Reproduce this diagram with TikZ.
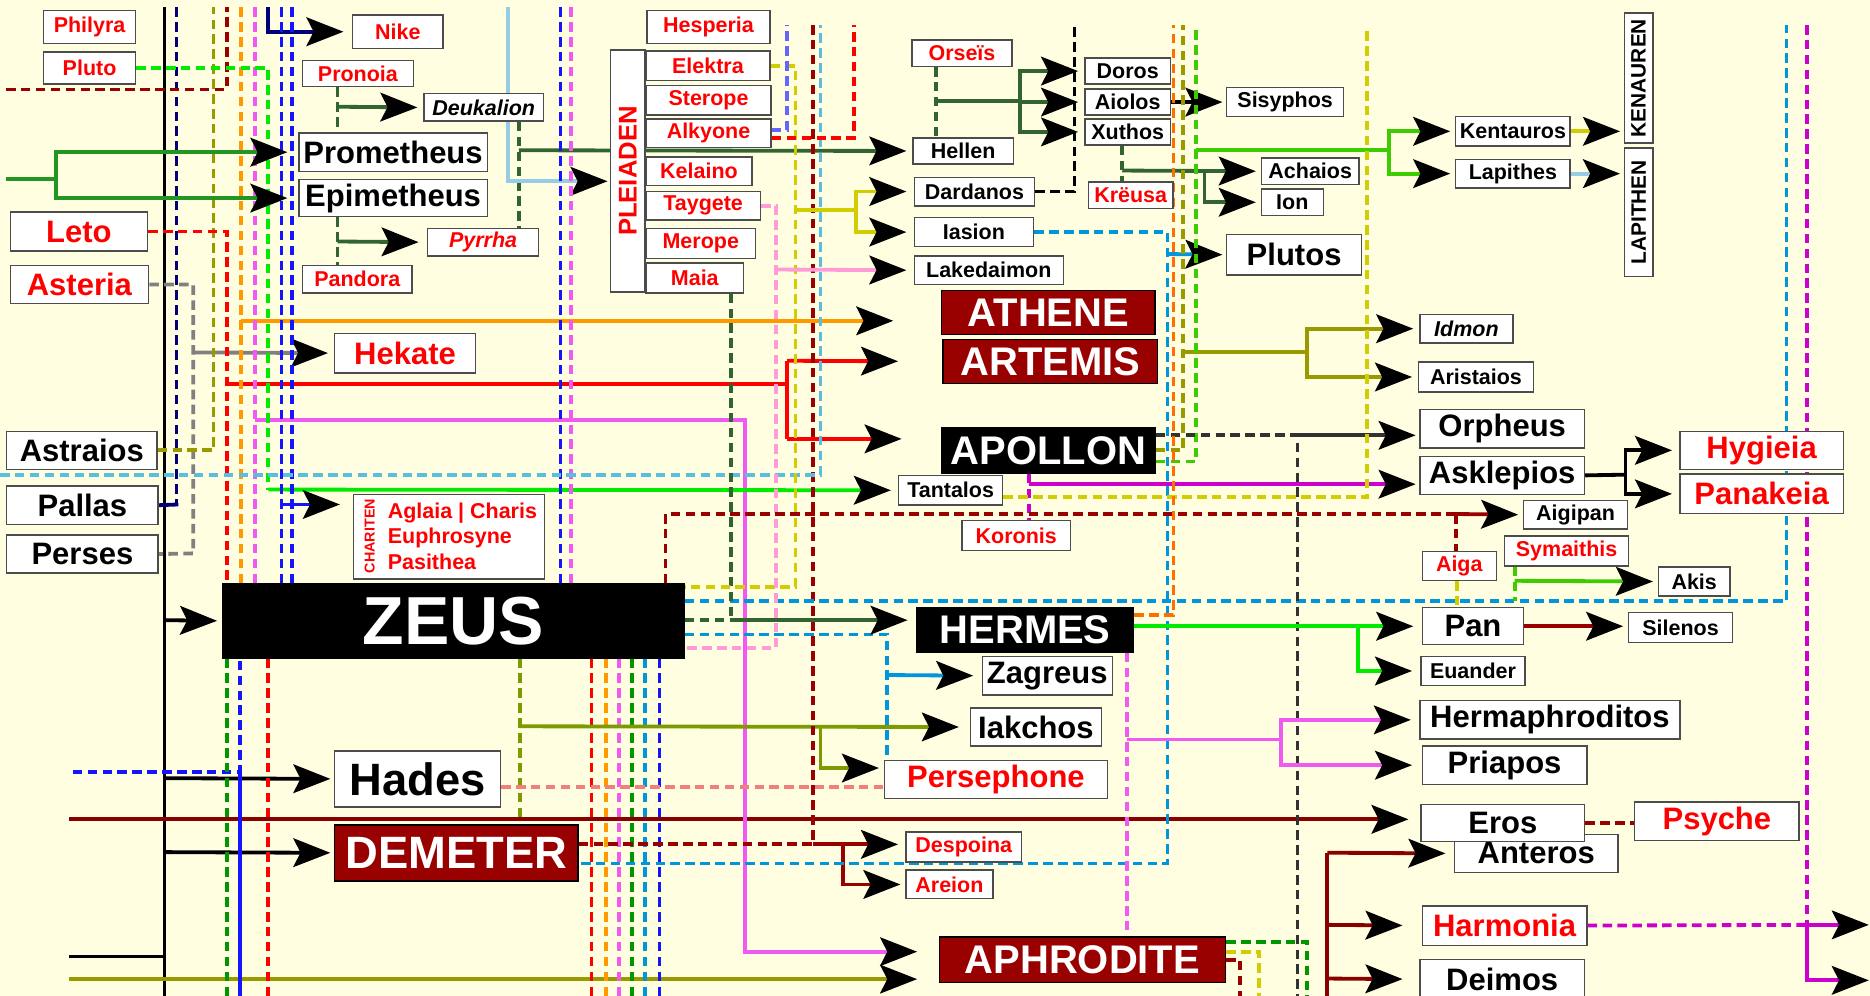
\documentclass[tikz,border=0pt]{standalone}
\usepackage{fontspec}
\setmainfont{Liberation Sans}
\usepackage{tikz}
\usetikzlibrary{arrows.meta}

\definecolor{paper}{RGB}{255,254,224}
\definecolor{godred}{RGB}{153,0,0}
\definecolor{fred}{RGB}{255,0,0}
\definecolor{dred}{RGB}{153,0,0}
\definecolor{maroon}{RGB}{136,0,0}
\definecolor{navy}{RGB}{0,0,120}
\definecolor{olv}{RGB}{153,153,0}
\definecolor{olvgreen}{RGB}{125,155,0}
\definecolor{orng}{RGB}{255,153,0}
\definecolor{orng2}{RGB}{255,110,0}
\definecolor{pinkv}{RGB}{240,90,240}
\definecolor{purp}{RGB}{204,0,204}
\definecolor{lgreen}{RGB}{0,235,0}
\definecolor{lime}{RGB}{60,205,0}
\definecolor{mgreen}{RGB}{34,150,34}
\definecolor{dgreen}{RGB}{50,100,50}
\definecolor{grn}{RGB}{0,150,0}
\definecolor{blu}{RGB}{20,20,255}
\definecolor{peri}{RGB}{100,100,255}
\definecolor{skyl}{RGB}{150,205,230}
\definecolor{sky}{RGB}{90,190,225}
\definecolor{dsky}{RGB}{0,150,220}
\definecolor{yel}{RGB}{210,205,0}
\definecolor{pnk}{RGB}{255,155,215}
\definecolor{salmon}{RGB}{240,128,128}
\definecolor{gry}{RGB}{128,128,128}
\definecolor{dgry}{RGB}{50,50,50}

\pgfdeclarelayer{back}
\pgfdeclarelayer{lines}
\pgfsetlayers{back,lines,main}

\begin{document}
\begin{tikzpicture}[x=1pt,y=-1pt,
    nbox/.style={draw=black!70,line width=1.2pt,fill=white,inner sep=0pt,anchor=north west,font=\fontsize{18}{20}\selectfont\bfseries},
    big/.style={nbox,font=\fontsize{26}{28}\selectfont\bfseries},
    fem/.style={text=fred},
    god/.style={nbox,draw=black,fill=godred,text=white,font=\fontsize{33.5}{36}\selectfont\bfseries},
    boss/.style={god,fill=black},
    sz/.style 2 args={minimum width=#1pt,minimum height=#2pt},
    arr/.style={-{Stealth[color=black,length=31pt,width=24pt,inset=6pt]},shorten >=5pt},
    dsh/.style={dash pattern=on 8pt off 4.5pt}]
\useasboundingbox (0,0) rectangle (1568,835);
\begin{pgfonlayer}{back}
\fill[paper] (0,0) rectangle (1568,835);
\end{pgfonlayer}

% Titans and their wives
\node[nbox,fem,sz={77}{28}] (philyra) at (36,8) {Philyra};
\node[nbox,fem,sz={77}{27}] (pluto) at (36,43) {Pluto};
\node[big,fem,sz={115}{33}] (leto) at (8,177) {Leto};
\node[big,fem,sz={116}{32}] (asteria) at (8,222) {Asteria};
\node[big,sz={126}{32}] (astraios) at (5,361) {Astraios};
\node[big,sz={127}{32}] (pallas) at (5,407) {Pallas};
\node[big,sz={127}{32}] (perses) at (5,448) {Perses};

\node[nbox,fem,sz={76}{28}] (nike) at (295,12) {Nike};
\node[nbox,fem,sz={93}{22}] (pronoia) at (253,50) {Pronoia};
\node[nbox,sz={100}{23}] (deukalion) at (355,78) {\itshape Deukalion};
\node[big,sz={158}{32}] (prometheus) at (250,111) {Prometheus};
\node[big,sz={158}{31}] (epimetheus) at (250,150) {Epimetheus};
\node[nbox,fem,sz={93}{23}] (pyrrha) at (358,191) {\itshape Pyrrha};
\node[nbox,fem,sz={92}{23}] (pandora) at (253,222) {Pandora};
\node[big,fem,sz={118}{33}] (hekate) at (280,279) {Hekate};
\node[nbox,sz={160}{71}] (chariten) at (296,414) {};
\node[fem,rotate=90,inner sep=0pt,font=\fontsize{12}{12}\selectfont\bfseries] (charitenlbl) at (310,449.5) {CHARITEN};
\node[fem,anchor=west,align=left,inner sep=0pt,font=\fontsize{18}{21.5}\selectfont\bfseries] (charites) at (325,449.5) {Aglaia | Charis\\Euphrosyne\\Pasithea};
\node[boss,sz={387}{62},font=\fontsize{57}{60}\selectfont\bfseries] (zeus) at (186,489) {ZEUS};
\node[big,sz={139}{47},font=\fontsize{38}{40}\selectfont\bfseries] (hades) at (280,629) {Hades};
\node[god,sz={204}{47},font=\fontsize{38}{40}\selectfont\bfseries] (demeter) at (280,691) {DEMETER};

% Pleiades
\node[nbox,fem,sz={103}{28}] (hesperia) at (542,8) {Hesperia};
\node[nbox,fem,anchor=center,rotate=90,sz={203}{29},font=\fontsize{21.5}{22}\selectfont\bfseries] (pleiaden) at (526.5,143.5) {PLEIADEN};
\node[nbox,fem,sz={104}{25}] (elektra) at (541,42) {Elektra};
\node[nbox,fem,sz={105}{25}] (sterope) at (541,71) {Sterope};
\node[nbox,fem,sz={105}{24}] (alkyone) at (541,99) {Alkyone};
\node[nbox,fem,sz={89}{24}] (kelaino) at (541,131) {Kelaino};
\node[nbox,fem,sz={96}{24}] (taygete) at (541,160) {Taygete};
\node[nbox,fem,sz={92}{25}] (merope) at (541,191) {Merope};
\node[nbox,fem,sz={82}{25}] (maia) at (541,220) {Maia};

% children of Zeus
\node[nbox,fem,sz={84}{22}] (orseis) at (764,33) {Orseïs};
\node[nbox,sz={84}{22}] (hellen) at (765,115) {Hellen};
\node[nbox,sz={101}{24}] (dardanos) at (766,148) {Dardanos};
\node[nbox,sz={100}{24}] (iasion) at (766,182) {Iasion};
\node[nbox,sz={125}{24}] (lakedaimon) at (766,214) {Lakedaimon};
\node[god,sz={179}{37}] (athene) at (789,243) {ATHENE};
\node[god,sz={180}{37}] (artemis) at (790,284) {ARTEMIS};
\node[boss,sz={179}{38}] (apollon) at (789,358) {APOLLON};
\node[nbox,sz={87}{25}] (tantalos) at (753,398) {Tantalos};
\node[nbox,fem,sz={91}{25}] (koronis) at (806,436) {Koronis};
\node[boss,sz={182}{37}] (hermes) at (768,509) {HERMES};
\node[big,sz={109}{32}] (zagreus) at (823,550) {Zagreus};
\node[big,sz={110}{32}] (iakchos) at (813,593) {Iakchos};
\node[big,fem,sz={187}{32}] (persephone) at (741,637) {Persephone};
\node[nbox,fem,sz={97}{25}] (despoina) at (759,697) {Despoina};
\node[nbox,fem,sz={73}{24}] (areion) at (759,729) {Areion};
\node[god,sz={240}{38}] (aphrodite) at (787,785) {APHRODITE};

% grandchildren
\node[nbox,sz={72}{22}] (doros) at (909,48) {Doros};
\node[nbox,sz={72}{22}] (aiolos) at (909,74) {Aiolos};
\node[nbox,sz={72}{22}] (xuthos) at (909,99) {Xuthos};
\node[nbox,fem,sz={71}{22}] (kreusa) at (912,152) {Krëusa};
\node[nbox,sz={98}{24}] (sisyphos) at (1028,73) {Sisyphos};
\node[nbox,sz={82}{22}] (achaios) at (1057,132) {Achaios};
\node[nbox,sz={52}{22}] (ion) at (1057,158) {Ion};
\node[big,sz={113}{34}] (plutos) at (1028,196) {Plutos};
\node[nbox,sz={96}{25}] (kentauros) at (1220,97) {Kentauros};
\node[nbox,sz={96}{24}] (lapithes) at (1220,133) {Lapithes};
\node[nbox,anchor=center,rotate=90,sz={109}{24},font=\fontsize{17.5}{18}\selectfont\bfseries] (kenauren) at (1374,65.5) {KENAUREN};
\node[nbox,anchor=center,rotate=90,sz={108}{24},font=\fontsize{17.5}{18}\selectfont\bfseries] (lapithen) at (1374,178) {LAPITHEN};
\node[nbox,sz={78}{24}] (idmon) at (1190,263) {\itshape Idmon};
\node[nbox,sz={96}{25}] (aristaios) at (1189,303) {Aristaios};
\node[big,sz={138}{32}] (orpheus) at (1190,343) {Orpheus};
\node[big,sz={138}{32}] (asklepios) at (1190,382) {Asklepios};
\node[big,fem,sz={137}{32}] (hygieia) at (1408,361) {Hygieia};
\node[big,fem,sz={137}{33}] (panakeia) at (1408,397) {Panakeia};
\node[nbox,sz={87}{24}] (aigipan) at (1277,419) {Aigipan};
\node[nbox,fem,sz={62}{24}] (aiga) at (1192,462) {Aiga};
\node[nbox,fem,sz={104}{25}] (symaithis) at (1261,449) {Symaithis};
\node[nbox,sz={60}{24}] (akis) at (1390,475) {Akis};
\node[big,sz={85}{31}] (pan) at (1192,509) {Pan};
\node[nbox,sz={87}{25}] (silenos) at (1365,513) {Silenos};
\node[nbox,sz={87}{24}] (euander) at (1191,550) {Euander};
\node[big,sz={218}{32}] (hermaphroditos) at (1190,587) {Hermaphroditos};
\node[big,sz={138}{32}] (priapos) at (1192,625) {Priapos};
\node[big,sz={137}{32}] (anteros) at (1219,699) {Anteros};
\node[big,sz={137}{31}] (eros) at (1191,674) {Eros};
\node[big,fem,sz={138}{32}] (psyche) at (1370,672) {Psyche};
\node[big,fem,sz={138}{33}] (harmonia) at (1192,759) {Harmonia};
\node[big,sz={138}{33}] (deimos) at (1190,804) {Deimos};
\coordinate (edgeA) at (1568,775.5);
\coordinate (edgeB) at (1568,822);

\begin{pgfonlayer}{lines}
\begin{scope}[line width=3.2pt]
% left trunk
\draw (138,6) -- (138,835);
\draw (58,802) -- (138,802);
\draw[arr,shorten >=4pt] (138,520) -- (zeus.west);
\draw[arr,shorten >=3pt] (138,652.5) -- (hades.west);
\draw[arr,shorten >=3pt] (138,714.5) -- (demeter.west);
\draw[olv,arr,shorten >=18pt] (58,821) -- (58,821 -| aphrodite.west);
\draw[maroon,arr,shorten >=10pt] (58,687) -- (58,687 -| eros.west);
\draw[blu,dsh] (61,647) -- (201,647) -- (zeus.south -| 201,0);
\draw[blu] (201,647) -- (201,835);
\draw[grn,dsh] (zeus.south -| 190,0) -- (190,835);
\draw[fred,dsh] (zeus.south -| 225,0) -- (225,835);

\draw[navy,dsh] (148,6) -- (148,423);
\draw[navy] (pallas.east) -- (149.5,423);
\draw[gry,dsh] (asteria.east) -| (162,464) -- (perses.east);
\draw[gry,arr] (162,295.5) -- (hekate.west);
\draw[olv,dsh] (astraios.east) -| (179,6);
\draw[dred,dsh] (5,75) -| (190,6);
\draw[fred,dsh] (leto.east) -| (zeus.north -| 190,0);
\draw[fred] (190,322) -- (660,322);
\draw[fred] (660,302.5) -- (660,368);
\draw[fred,arr,shorten >=37pt] (660,302.5) -- (artemis.west);
\draw[fred,arr,shorten >=33pt] (660,368) -- (660,368 -| apollon.west);
\draw[orng,dsh] (202,6) -- (zeus.north -| 202,0);
\draw[orng,arr,shorten >=40pt] (202,269) -- (202,269 -| athene.west);
\draw[pinkv,dsh] (214,6) -- (zeus.north -| 214,0);
\draw[pinkv,arr,shorten >=18pt] (214,352) -| (625,798) -- (625,798 -| aphrodite.west);
\draw[lgreen,dsh] (pluto.east) -| (225,410.5);
\draw[lgreen,arr,shorten >=6pt] (225,410.5) -- (tantalos.west);
\draw[navy,arr,shorten >=7pt] (225,6) |- (nike.west);
\draw[blu,dsh] (236,6) -- (zeus.north -| 236,0);
\draw[blu,dsh] (245,6) -- (zeus.north -| 245,0);
\draw[blu,arr,shorten >=11pt] (236,423) -- (236,423 -| chariten.west);

% Iapetos line
\draw[mgreen] (5,150) -- (47,150);
\draw[mgreen,arr,shorten >=9pt] (47,150) |- (prometheus.west);
\draw[mgreen,arr,shorten >=9pt] (47,150) |- (epimetheus.west);
\draw[dgreen,dsh] (pronoia.south -| 283,0) -- (prometheus.north -| 283,0);
\draw[dgreen,arr] (283,89.5) -- (deukalion.west);
\draw[dgreen,dsh] (epimetheus.south -| 283,0) -- (pandora.north -| 283,0);
\draw[dgreen,arr,shorten >=7pt] (283,202.5) -- (pyrrha.west);
\draw[dgreen,dsh] (deukalion.south -| 435,0) -- (pyrrha.north -| 435,0);
\draw[dgreen,arr] (435,126) -- (hellen.west);
\draw[skyl,arr,shorten >=2pt] (426,6) |- (426,152 -| pleiaden.north);
\draw[blu,dsh] (470,6) -- (zeus.north -| 470,0);
\draw[pinkv,dsh] (479,6) -- (zeus.north -| 479,0);

% below Zeus
\draw[olvgreen,dsh] (zeus.south -| 436,0) -- (436,686);
\foreach \x/\c in {496/fred,508/orng,519/pinkv,530/grn,541/dsky,553/blu}
  \draw[color=\c,dsh] (zeus.south -| \x,0) -- (\x,835);
\draw[olvgreen,arr,shorten >=9pt] (436,609) -- (iakchos.west);
\draw[olvgreen,arr,shorten >=4pt] (688,609) |- (688,644 -| persephone.west);
\draw[salmon,dsh] (hades.east |- 0,660) -- (persephone.west |- 0,660);
\draw[dred,dsh] (682,21) -- (682,708);
\draw[dred,dsh] (demeter.east |- 0,708) -- (682,708);
\draw[dred,arr,shorten >=6pt] (682,708) -- (682,708 -| despoina.west);
\draw[dred,arr,shorten >=4pt] (707,708) |- (areion.west);

% sky blue lines
\draw[dsky,dsh] (iasion.east) -| (979,724) -- (demeter.east |- 0,724);
\draw[dsky,arr,shorten >=3pt] (979,213) -- (plutos.west);
\draw[dsky,dsh] (zeus.east |- 0,504) -| (1498,21);
\draw[dsky,dsh] (zeus.east |- 0,532) -| (persephone.north -| 744,0);
\draw[dsky,arr,shorten >=7pt] (744,566) -- (zagreus.west);
\draw[sky,dsh] (0,398) -| (688,21);

% Pleiades and their children
\draw[dgreen,dsh] (maia.south -| 613,0) -- (613,520);
\draw[dgreen,dsh] (zeus.east |- 0,520) -- (613,520);
\draw[dgreen,arr,shorten >=7pt] (613,520) -- (613,520 -| hermes.west);
\draw[yel,dsh] (elektra.east) -| (667,492) -- (zeus.east |- 0,492);
\draw[yel] (667,176) -- (718,176);
\draw[yel,arr,shorten >=6pt] (718,176) |- (dardanos.west);
\draw[yel,arr,shorten >=6pt] (718,176) |- (iasion.west);
\draw[peri,dsh] (alkyone.east |- 0,109) -| (660,21);
\draw[fred,dsh] (alkyone.east |- 0,116) -| (716,21);
\draw[pnk,dsh] (taygete.east) -| (651,543) -- (zeus.east |- 0,543);
\draw[pnk,arr,shorten >=6pt] (651,226) -- (lakedaimon.west);

% Hellenes
\draw[dgreen,dsh] (orseis.south -| 785,0) -- (hellen.north -| 785,0);
\draw[dgreen] (785,85) -- (855,85);
\foreach \n in {doros,aiolos,xuthos}
  \draw[dgreen,arr] (855,85) |- (\n.west);
\draw[dgreen,dsh] (xuthos.south -| 941,0) -- (kreusa.north -| 941,0);
\draw[dgreen,arr,shorten >=4pt] (941,143) -- (achaios.west);
\draw[dgreen,arr,shorten >=4pt] (1010,143) |- (ion.west);
\draw[arr,shorten >=3pt] (aiolos.east) -- (sisyphos.west);
\draw[dsh] (dardanos.east) -| (901,21);

% Apollon
\draw[olv,dsh] (apollon.east) -| (992,21);
\draw[olv] (992,295) -- (1096,295);
\draw[olv,arr] (1096,295) |- (idmon.west);
\draw[olv,arr] (1096,295) |- (aristaios.west);
\draw[lime,dsh] (apollon.east |- 0,387) -| (1003,21);
\draw[lime] (1003,126) -- (1165,126);
\draw[lime,arr,shorten >=4pt] (1165,126) |- (kentauros.west);
\draw[lime,arr,shorten >=4pt] (1165,126) |- (lapithes.west);
\draw[yel,arr,shorten >=3pt] (kentauros.east) -- (kentauros.east -| kenauren.north);
\draw[skyl,arr,shorten >=3pt] (lapithes.east) -- (lapithes.east -| lapithen.north);
\draw[dgry,dsh] (apollon.east |- 0,365) -- (1088,365) -- (1088,835);
\draw[dgry,arr,shorten >=3pt] (1088,365) -- (1088,365 -| orpheus.west);
\draw[purp,dsh] (apollon.south -| 863,0) -- (koronis.north -| 863,0);
\draw[purp,arr,shorten >=3pt] (863,406) -- (863,406 -| asklepios.west);
\draw[yel,dsh] (tantalos.east |- 0,417) -| (1146,25);
\draw (asklepios.east) -- (1363,398);
\draw[arr,shorten >=6pt] (1363,398) |- (hygieia.west);
\draw[arr,shorten >=6pt] (1363,398) |- (panakeia.west);

% Hermes, Pan
\draw[orng2,dsh] (hermes.east |- 0,516) -| (984,21);
\draw[lgreen,arr,shorten >=7pt] (hermes.east |- pan.west) -- (pan.west);
\draw[lgreen,arr,shorten >=7pt] (1139,524.5) |- (euander.west);
\draw[dred,arr,shorten >=4pt] (pan.east) -- (pan.east -| silenos.west);
\draw[dred,dsh] (zeus.north -| 558,0) |- (1221,431);
\draw[dred,arr,shorten >=4pt] (1221,431) -- (aigipan.west);
\draw[dred,dsh] (1221,431) -- (aiga.north -| 1221,0);
\draw[yel,dsh] (aiga.south -| 1222,0) -- (pan.north -| 1222,0);
\draw[lime,dsh] (symaithis.south -| 1270,0) -- (1270,504);
\draw[lime,arr,shorten >=4pt] (1270,487) -- (akis.west);

% Aphrodite
\draw[pinkv,dsh] (hermes.south -| 945,0) -- (aphrodite.north -| 945,0);
\draw[pinkv] (945,620) -- (1074,620);
\draw[pinkv,arr,shorten >=7pt] (1074,620) |- (hermaphroditos.west);
\draw[pinkv,arr,shorten >=8pt] (1074,620) |- (priapos.west);
\draw[dred,dsh] (eros.east) -- (eros.east -| psyche.west);
\draw[maroon] (1113,715) -- (1113,835);
\draw[maroon,arr,shorten >=7pt] (1113,715) -- (anteros.west);
\draw[maroon,arr,shorten >=16pt] (1113,775.5) -- (harmonia.west);
\draw[maroon,arr,shorten >=14pt] (1113,820.5) -- (deimos.west);
\draw[purp,dsh] (1515,21) -- (1515,775.5);
\draw[purp,dsh] (harmonia.east) -- (1515,775.5);
\draw[purp,arr,shorten >=1pt] (1515,775.5) -- (edgeA);
\draw[purp,arr,shorten >=1pt] (1515,775.5) |- (edgeB);
\draw[grn,dsh] (aphrodite.east |- 0,790) -| (1096,835);
\draw[yel,dsh] (aphrodite.east |- 0,798) -| (1056,835);
\draw[dred,dsh] (aphrodite.east |- 0,805) -| (1040,835);
\end{scope}
\end{pgfonlayer}
\end{tikzpicture}
\end{document}
